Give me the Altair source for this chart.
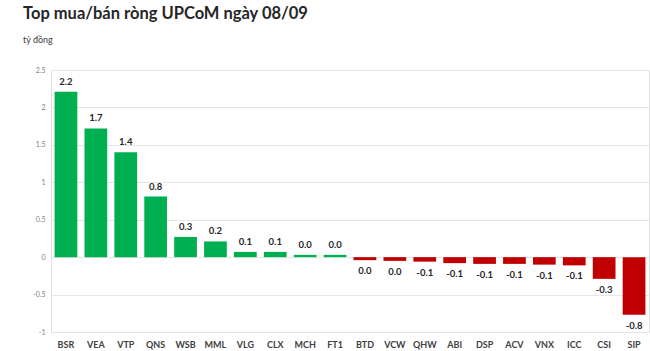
import altair as alt
import pandas as pd

tickers = ["BSR", "VEA", "VTP", "QNS", "WSB", "MML", "VLG", "CLX", "MCH", "FT1",
           "BTD", "VCW", "QHW", "ABI", "DSP", "ACV", "VNX", "ICC", "CSI", "SIP"]
values = [2.21, 1.72, 1.40, 0.81, 0.27, 0.21, 0.07, 0.07, 0.03, 0.03,
          -0.04, -0.05, -0.06, -0.08, -0.09, -0.09, -0.10, -0.11, -0.29, -0.77]
labels = ["2.2", "1.7", "1.4", "0.8", "0.3", "0.2", "0.1", "0.1", "0.0", "0.0",
          "0.0", "0.0", "-0.1", "-0.1", "-0.1", "-0.1", "-0.1", "-0.1", "-0.3", "-0.8"]
y_ticks = [-1, -0.5, 0, 0.5, 1, 1.5, 2, 2.5]

df = pd.DataFrame({"ticker": tickers, "value": values, "label": labels})
df["sign"] = ["pos" if v >= 0 else "neg" for v in values]

FONT = "Lato"

x = alt.X("ticker:N", sort=tickers, title=None,
          scale=alt.Scale(paddingInner=0.24, paddingOuter=0.12),
          axis=alt.Axis(orient="bottom", domain=False, ticks=False, labelAngle=0,
                        labelFont=FONT, labelFontSize=9, labelFontWeight="bold",
                        labelColor="#404040", labelPadding=8))
y = alt.Y("value:Q", title=None,
          scale=alt.Scale(domain=[-1, 2.5], nice=False, zero=True),
          axis=alt.Axis(values=y_ticks, domain=False, ticks=False,
                        labelFont=FONT, labelFontSize=7, labelColor="#7f7f7f",
                        labelPadding=6, gridColor="#e6e6e6", gridWidth=1,
                        labelOverlap=False, labelExpr="datum.value"))

base = alt.Chart(df).encode(x=x, y=y)

bars = base.mark_bar().encode(
    y2=alt.datum(0),
    color=alt.Color("sign:N", scale=alt.Scale(domain=["pos", "neg"], range=["#00B050", "#C00000"]), legend=None),
)

pos_text = base.transform_filter("datum.value >= 0").mark_text(
    baseline="bottom", dy=-5, font=FONT, fontSize=9.5, fontWeight="bold", color="#262626"
).encode(text="label:N")

neg_text = base.transform_filter("datum.value < 0").mark_text(
    baseline="top", dy=6, font=FONT, fontSize=9.5, fontWeight="bold", color="#262626"
).encode(text="label:N")

chart = alt.layer(bars, pos_text, neg_text).properties(
    width=598, height=262,
    title=alt.TitleParams(
        "Top mua/bán  ròng UPCoM ngày 08/09",
        subtitle="tỷ đồng",
        anchor="start", frame="group", dx=-28, offset=21,
        font=FONT, fontSize=16.5, fontWeight="bold", color="#262626",
        subtitleFont=FONT, subtitleFontSize=9, subtitleColor="#404040", subtitlePadding=14,
    ),
    autosize=alt.AutoSizeParams(type="none"),
    padding={"left": 51, "top": 70, "right": 1, "bottom": 19},
).configure_view(stroke=None).configure(background="white")

chart.save("out.html", embed_options={"renderer": "svg", "actions": False})
